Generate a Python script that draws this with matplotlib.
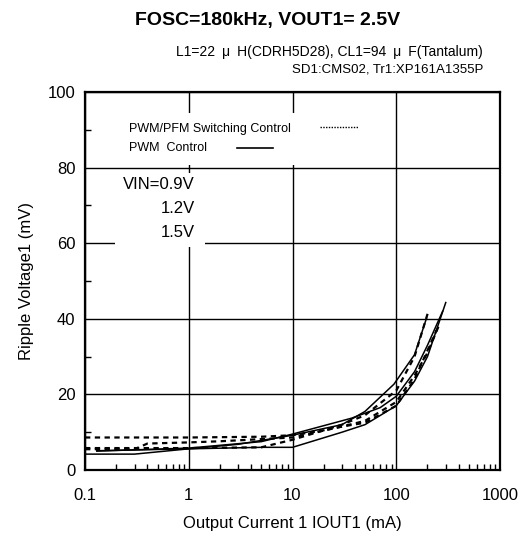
import matplotlib
matplotlib.use("Agg")
import matplotlib.pyplot as plt
from matplotlib.patches import Rectangle
from matplotlib.ticker import LogLocator, NullFormatter, FixedLocator

plt.rcParams['font.family'] = ['Liberation Sans', 'DejaVu Sans']

# PWM control (solid)
s1_x = [0.1, 0.3, 1, 5, 10, 30, 50, 100, 150, 200, 300]
s1_y = [4.2, 4.2, 5.6, 6.0, 6.0, 10.0, 12.0, 17.0, 23.5, 30.0, 44.3]
s2_x = [0.13, 1, 3, 10, 30, 50, 95, 150, 196]
s2_y = [5.1, 5.6, 6.8, 9.2, 12.0, 15.5, 22.7, 30.5, 40.2]
s3_x = [0.13, 1, 5, 10, 37, 70, 100, 150, 200, 280]
s3_y = [5.0, 5.8, 7.5, 9.5, 13.7, 16.5, 19.5, 26.0, 33.0, 42.0]

# PWM/PFM switching control (dotted)
d1_x = [0.1, 1, 5, 10, 20, 30, 50, 100, 150, 205]
d1_y = [8.6, 8.6, 8.8, 9.2, 10.5, 12.0, 14.5, 21.0, 30.0, 42.2]
d2_x = [0.1, 0.3, 0.4, 1, 2, 10, 30, 50, 100, 150, 200, 264]
d2_y = [5.5, 5.5, 7.0, 7.3, 7.6, 8.6, 11.5, 13.0, 18.0, 25.0, 31.0, 38.9]
d3_x = [0.1, 1, 5, 10, 20, 30, 50, 100, 150, 245]
d3_y = [5.8, 5.8, 6.0, 8.0, 10.5, 11.5, 12.5, 17.0, 24.0, 37.0]

x_ticks = [0.1, 1, 10, 100, 1000]
x_labels = ["0.1", "1", "10", "100", "1000"]
y_ticks = [0, 20, 40, 60, 80, 100]

fig = plt.figure(figsize=(5.21, 5.41), dpi=100)
ax = fig.add_axes([85/521, 1-470/541, 415/521, 378/541])

for xs, ys in [(s1_x, s1_y), (s2_x, s2_y), (s3_x, s3_y)]:
    ax.plot(xs, ys, color='black', lw=1.1, zorder=4)
for xs, ys in [(d1_x, d1_y), (d2_x, d2_y), (d3_x, d3_y)]:
    ax.plot(xs, ys, color='black', lw=1.6, ls=(0, (2.4, 2.0)), zorder=4)

ax.set_xscale('log')
ax.set_xlim(0.1, 1000)
ax.set_ylim(0, 100)
ax.xaxis.set_major_locator(FixedLocator(x_ticks))
ax.set_xticklabels(x_labels)
ax.xaxis.set_minor_locator(LogLocator(base=10, subs=range(2, 10)))
ax.xaxis.set_minor_formatter(NullFormatter())
ax.set_yticks(y_ticks)
ax.set_yticks([10, 30, 50, 70, 90], minor=True)
ax.tick_params(axis='both', which='major', length=0, labelsize=12)
ax.tick_params(axis='x', which='major', pad=13)
ax.tick_params(axis='y', which='major', pad=7)
ax.tick_params(axis='both', which='minor', direction='in', length=4, width=1)
ax.grid(True, which='major', color='black', lw=1.0)
for sp in ax.spines.values():
    sp.set_linewidth(1.6)

# legend box
ax.add_patch(Rectangle((0.036, 0.807), 0.64, 0.137, transform=ax.transAxes,
                       facecolor='white', edgecolor='none', zorder=3))
ax.text(0.106, 0.902, "PWM/PFM Switching Control", transform=ax.transAxes,
        fontsize=9, va='center', ha='left', zorder=5)
ax.plot([0.566, 0.658], [0.907, 0.907], transform=ax.transAxes, color='black',
        lw=1.0, ls=(0, (1, 1)), zorder=5)
ax.text(0.106, 0.852, "PWM  Control", transform=ax.transAxes,
        fontsize=9, va='center', ha='left', zorder=5)
ax.plot([0.366, 0.453], [0.852, 0.852], transform=ax.transAxes, color='black',
        lw=1.2, zorder=5)

# VIN box
ax.add_patch(Rectangle((0.072, 0.59), 0.217, 0.196, transform=ax.transAxes,
                       facecolor='white', edgecolor='none', zorder=3))
ax.text(0.0916, 0.754, "VIN=0.9V", transform=ax.transAxes, fontsize=12,
        va='center', ha='left', zorder=5)
ax.text(0.265, 0.693, "1.2V", transform=ax.transAxes, fontsize=12,
        va='center', ha='right', zorder=5)
ax.text(0.265, 0.627, "1.5V", transform=ax.transAxes, fontsize=12,
        va='center', ha='right', zorder=5)

ax.set_xlabel("Output Current 1 IOUT1 (mA)", fontsize=12, labelpad=9)
ax.set_ylabel("Ripple Voltage1 (mV)", fontsize=12, labelpad=10)

fig.text(268/521, 1-20/541, "FOSC=180kHz, VOUT1= 2.5V", fontsize=14,
         fontweight='bold', ha='center', va='center')
fig.text(483/521, 1-52/541,
         "L1=22\u2002\u03bc\u2002H(CDRH5D28), CL1=94\u2002\u03bc\u2002F(Tantalum)",
         fontsize=10, ha='right', va='center')
fig.text(483/521, 1-70/541, "SD1:CMS02, Tr1:XP161A1355P",
         fontsize=9.5, ha='right', va='center')

fig.savefig("out.png", dpi=100)
